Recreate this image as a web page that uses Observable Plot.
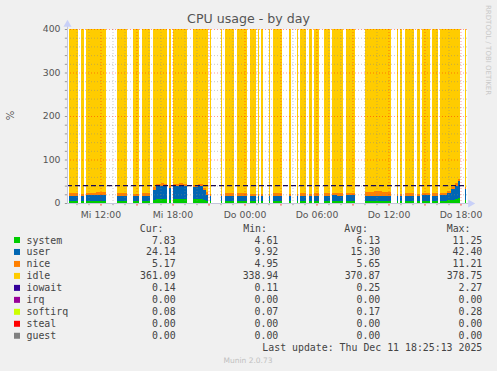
<!DOCTYPE html>
<html><head><meta charset="utf-8">
<script src="https://cdn.jsdelivr.net/npm/d3@7"></script>
<script src="https://cdn.jsdelivr.net/npm/@observablehq/plot@0.6"></script>
<style>html,body{margin:0;padding:0;background:#F0F0F0;overflow:hidden} svg{display:block}</style>
</head><body><div id="chart"></div>
<script>
// ---- data (hours since Wed 00:00) ----
const seriesNames  = ["system","user","nice","idle","iowait","irq","softirq","steal","guest"];
const seriesColors = ["#00CC00","#0066B3","#FF8000","#FFCC00","#330099","#990099","#CCFF00","#FF0000","#808080"];

const tStart = [9.38,10.38,10.79,11.60,13.38,14.71,15.46,16.35,16.65,17.00,17.30,17.73,18.04,18.50,18.90,19.68,20.10,20.50,20.80,21.10,22.04,22.38,23.35,24.46,25.10,25.38,26.02,26.38,27.71,28.38,28.63,29.38,29.82,30.63,31.29,31.75,32.46,34.04,34.80,35.50,36.71,37.00,37.38,38.38,38.79,39.63,40.29,40.90,41.25,41.55,41.80,42.38];
const tEnd   = [10.15,10.60,11.60,12.43,14.23,15.23,16.15,16.65,17.00,17.30,17.57,17.88,18.50,18.90,19.23,20.10,20.50,20.80,20.98,21.17,22.12,23.15,24.21,24.96,25.23,25.52,26.13,27.10,27.88,28.48,29.13,29.63,30.21,31.13,31.75,32.21,33.21,34.80,35.50,36.18,36.82,37.13,38.13,38.65,39.46,40.15,40.90,41.25,41.55,41.80,41.96,42.50];
const system = [5.0,5.1,5.3,5.4,5.0,4.9,5.0,8.0,8.8,9.0,8.6,8.0,9.0,9.3,8.8,8.5,8.3,7.0,5.5,5.0,5.0,5.1,5.2,5.0,4.9,4.8,4.9,5.1,4.9,4.9,5.1,5.0,5.2,5.1,5.3,5.2,5.3,4.8,4.9,5.0,4.9,4.9,5.2,5.0,5.3,5.2,5.4,6.2,7.5,9.0,10.8,7.8];
const user   = [11.8,11.2,12.2,12.8,11.6,11.0,11.4,22.0,29.5,31.0,30.0,27.0,30.5,31.5,29.5,28.5,30.0,22.0,14.0,10.5,10.8,11.3,11.6,11.2,10.9,10.8,10.8,11.4,10.5,10.6,11.5,11.0,11.8,11.3,12.0,11.6,12.2,11.2,11.5,11.3,10.8,10.7,11.7,11.0,12.0,11.5,12.0,16.0,24.0,31.0,40.0,24.1];
const nice   = [5.6,5.5,5.9,6.2,5.7,5.4,5.6,6.0,6.5,5.5,5.8,5.5,5.2,5.0,5.8,5.5,5.2,5.5,5.5,5.3,5.2,5.6,5.7,5.5,5.3,5.2,5.3,5.8,5.4,5.2,5.6,5.4,5.8,5.6,5.9,6.2,6.0,9.0,10.5,9.5,5.3,5.2,5.9,5.5,5.8,5.6,5.5,5.6,5.5,5.3,5.2,5.2];
const idle   = [377.3,377.8,376.2,375.2,377.3,378.3,377.6,363.6,354.8,354.1,355.2,359.1,354.9,353.8,355.5,357.1,356.1,365.1,374.6,378.7,378.6,377.6,377.1,377.9,378.5,378.7,378.6,377.3,378.7,378.7,377.4,378.2,376.8,377.6,376.4,376.6,376.1,374.6,372.7,373.8,378.6,378.7,376.8,378.1,376.5,377.3,376.7,371.8,362.6,354.3,343.6,362.5];
const iowait = [0.2,0.2,0.3,0.2,0.2,0.2,0.2,0.3,0.3,0.2,0.2,0.2,0.3,0.2,0.2,0.2,0.2,0.2,0.2,0.2,0.2,0.2,0.2,0.2,0.2,0.2,0.2,0.2,0.2,0.2,0.2,0.2,0.2,0.2,0.2,0.2,0.2,0.2,0.2,0.2,0.2,0.2,0.2,0.2,0.2,0.2,0.2,0.2,0.2,0.2,0.2,0.14];
const softirq= [0.15,0.15,0.15,0.15,0.15,0.15,0.15,0.2,0.2,0.2,0.2,0.2,0.2,0.2,0.2,0.2,0.2,0.2,0.15,0.15,0.15,0.15,0.15,0.15,0.15,0.15,0.15,0.15,0.15,0.15,0.15,0.15,0.15,0.15,0.15,0.15,0.15,0.15,0.15,0.15,0.15,0.15,0.15,0.15,0.15,0.15,0.15,0.15,0.2,0.2,0.25,0.08];

const curVals = ["7.83","24.14","5.17","361.09","0.14","0.00","0.08","0.00","0.00"];
const minVals = ["4.61","9.92","4.95","338.94","0.11","0.00","0.07","0.00","0.00"];
const avgVals = ["6.13","15.30","5.65","370.87","0.25","0.00","0.17","0.00","0.00"];
const maxVals = ["11.25","42.40","11.21","378.75","2.27","0.00","0.28","0.00","0.00"];

const xStart = 9.2083, xEnd = 42.5417;
const tickHours  = [12,18,24,30,36,42];
const tickLabels = ["Mi 12:00","Mi 18:00","Do 00:00","Do 06:00","Do 12:00","Do 18:00"];
const majorY = [100,200,300,400];
const minorY = [20,40,60,80,120,140,160,180,220,240,260,280,320,340,360,380];
const majorX = [12,15,18,21,24,27,30,33,36,39,42];
const minorX = [10,11,13,14,16,17,19,20,22,23,25,26,28,29,31,32,34,35,37,38,40,41];
const warnLevel = 41;

// ---- build long table ----
const seriesVals = {system, user, nice, idle, iowait, softirq};
const stackRows = [];
tStart.forEach((s, i) => {
  for (const k of seriesNames) {
    const arr = seriesVals[k];
    if (arr && arr[i] > 0) stackRows.push({x1: s, x2: tEnd[i], key: k, value: arr[i]});
  }
});
const labelOf = new Map(tickHours.map((h, i) => [h, tickLabels[i]]));

const chart = Plot.plot({
  width: 497, height: 371,
  marginLeft: 67, marginRight: 30, marginTop: 29, marginBottom: 168,
  style: {background: "#F0F0F0", fontFamily: "DejaVu Sans", fontSize: "9.3px", color: "#555", overflow: "visible"},
  x: {domain: [xStart, xEnd], axis: null},
  y: {domain: [0, 400], axis: null},
  color: {type: "ordinal", domain: seriesNames, range: seriesColors},
  marks: [
    Plot.frame({fill: "white", stroke: "none"}),
    Plot.rectY(stackRows, {x1: "x1", x2: "x2", y: "value", fill: "key", order: seriesNames, shapeRendering: "crispEdges"}),
    Plot.ruleY(minorY, {stroke: "#888", strokeOpacity: 0.45, strokeDasharray: "1,2"}),
    Plot.ruleX(minorX, {stroke: "#888", strokeOpacity: 0.45, strokeDasharray: "1,2"}),
    Plot.ruleY(majorY, {stroke: "#f00", strokeOpacity: 0.4, strokeDasharray: "1,2"}),
    Plot.ruleX(majorX, {stroke: "#f00", strokeOpacity: 0.4, strokeDasharray: "1,2"}),
    Plot.ruleY([warnLevel], {stroke: "#1b0b55", strokeWidth: 1.4, strokeDasharray: "5,3"}),
    // axis lines and ticks
    Plot.ruleX(minorX, {y1: 0, y2: -5, stroke: "#999"}),
    Plot.ruleX(majorX, {y1: 0, y2: -6, stroke: "#f33"}),
    Plot.ruleY([0, ...minorY, ...majorY], {x1: xStart, x2: xStart - 0.18, stroke: "#999"}),
    Plot.ruleY([0], {x1: xStart, x2: xEnd + 0.2, stroke: "#c4c6dc"}),
    Plot.ruleX([xStart], {y1: 0, y2: 409, stroke: "#c4c6dc"}),
    Plot.dot([xStart], {x: d => d, y: 400, dy: -5, symbol: "triangle", r: 3, fill: "#c8d0f8", stroke: "none"}),
    Plot.dot([xEnd], {x: d => d, y: 0, dx: 3, symbol: "triangle", r: 3, rotate: 90, fill: "#c8d0f8", stroke: "none"}),
    Plot.axisX({ticks: tickHours, tickFormat: d => labelOf.get(d), tickSize: 0, tickPadding: 8, fill: "#555", label: null}),
    Plot.axisY({ticks: [0,100,200,300,400], tickSize: 0, tickPadding: 7, fill: "#555", label: null})
  ]
});
document.getElementById("chart").appendChild(chart);

// ---- titles and legend ----
const svg = d3.select(chart);
svg.append("text").attr("x", 248.5).attr("y", 23).attr("text-anchor", "middle")
  .attr("font-family", "DejaVu Sans").attr("font-size", 12.6).attr("fill", "#555").text("CPU usage - by day");
svg.append("text").attr("transform", "translate(13.5,115.5) rotate(-90)").attr("text-anchor", "middle")
  .attr("font-family", "DejaVu Sans").attr("font-size", 10).attr("fill", "#555").text("%");
svg.append("text").attr("transform", "translate(485.5,5) rotate(90)").attr("text-anchor", "start")
  .attr("font-family", "DejaVu Sans").attr("font-size", 7).attr("fill", "#c8c8c8").text("RRDTOOL / TOBI OETIKER");

const lg = svg.append("g").attr("font-family", "DejaVu Sans Mono").attr("font-size", 9.9).attr("fill", "#444").attr("text-anchor", "start");
[["Cur:", 163.5], ["Min:", 267], ["Avg:", 368], ["Max:", 470.5]].forEach(([t, x]) =>
  lg.append("text").attr("x", x).attr("y", 231.5).attr("text-anchor", "end").text(t));
seriesNames.forEach((name, i) => {
  const cy = 240 + 11.97 * i;
  lg.append("rect").attr("x", 14).attr("y", cy - 3).attr("width", 6).attr("height", 6).attr("fill", seriesColors[i]);
  lg.append("text").attr("x", 26.5).attr("y", cy + 3.5).attr("text-anchor", "start").text(name);
  [[curVals, 175.7], [minVals, 278.3], [avgVals, 380.3], [maxVals, 482.3]].forEach(([arr, x]) =>
    lg.append("text").attr("x", x).attr("y", cy + 3.5).attr("text-anchor", "end").text(arr[i]));
});
lg.append("text").attr("x", 482.3).attr("y", 351.2).attr("text-anchor", "end").text("Last update: Thu Dec 11 18:25:13 2025");
svg.append("text").attr("x", 248).attr("y", 362.5).attr("text-anchor", "middle")
  .attr("font-family", "DejaVu Sans").attr("font-size", 7.5).attr("fill", "#c0c0c0").text("Munin 2.0.73");
</script>
</body></html>
